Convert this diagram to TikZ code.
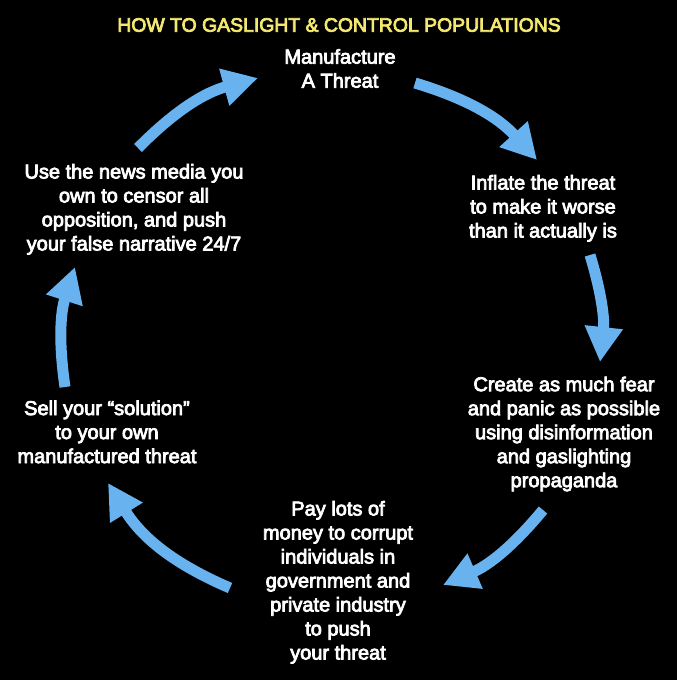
\documentclass[tikz,border=0pt]{standalone}
\usepackage{fontspec}
\setmainfont{Liberation Sans}
\usetikzlibrary{arrows.meta}
\definecolor{arrowblue}{RGB}{104,178,240}
\definecolor{titleyellow}{RGB}{244,232,112}
\begin{document}
\begin{tikzpicture}[x=1pt,y=1pt,
  mediumweight/.style={execute at begin node={\special{pdf:literal direct 2 Tr 0.75 w}},
                       execute at end node={\special{pdf:literal direct 0 Tr}}},
  steptext/.style={text=white, align=center, inner sep=0pt, font=\fontsize{20}{24}\selectfont, mediumweight},
  titletext/.style={text=titleyellow, inner sep=0pt, font=\fontsize{19.4}{23}\selectfont, mediumweight},
  cyclearrow/.style={draw=arrowblue, line width=11pt, -{Triangle[length=35pt,width=36pt]}}]
\fill[black] (0,0) rectangle (677,-680);
\useasboundingbox (0,0) rectangle (677,-680);

\node[titletext] (title) at (339,-25) {HOW TO GASLIGHT \& CONTROL POPULATIONS};

\node[steptext] (manufacture) at (340,-68.5) {Manufacture\\A Threat};
\node[steptext] (inflate) at (543,-208.3) {Inflate the threat\\to make it worse\\than it actually is};
\node[steptext] (create) at (564,-434) {Create as much fear\\and panic as possible\\using disinformation\\and gaslighting\\propaganda};
\node[steptext] (pay) at (338,-582.3) {Pay lots of\\money to corrupt\\individuals in\\government and\\private industry\\to push\\your threat};
\node[steptext] (sell) at (107,-431.9) {Sell your “solution”\\to your own\\manufactured threat};
\node[steptext] (use) at (134,-209.3) {Use the news media you\\own to censor all\\opposition, and push\\your false narrative 24/7};

\coordinate (a1s) at (138,-148);
\coordinate (a1e) at (258,-78);
\coordinate (a2s) at (415,-83);
\coordinate (a2e) at (537,-160);
\coordinate (a3s) at (590,-255);
\coordinate (a3e) at (600,-362);
\coordinate (a4s) at (543,-510);
\coordinate (a4e) at (443,-585);
\coordinate (a5s) at (230,-588);
\coordinate (a5e) at (108,-483);
\coordinate (a6s) at (65,-387);
\coordinate (a6e) at (75,-267);

\draw[cyclearrow] (a1s) to[bend left=15] (a1e);
\draw[cyclearrow] (a2s) to[bend left=15.5] (a2e);
\draw[cyclearrow] (a3s) to[bend left=11.5] (a3e);
\draw[cyclearrow] (a4s) to[bend left=13.5] (a4e);
\draw[cyclearrow] (a5s) to[bend left=17.5] (a5e);
\draw[cyclearrow] (a6s) to[bend left=13] (a6e);
\end{tikzpicture}
\end{document}
